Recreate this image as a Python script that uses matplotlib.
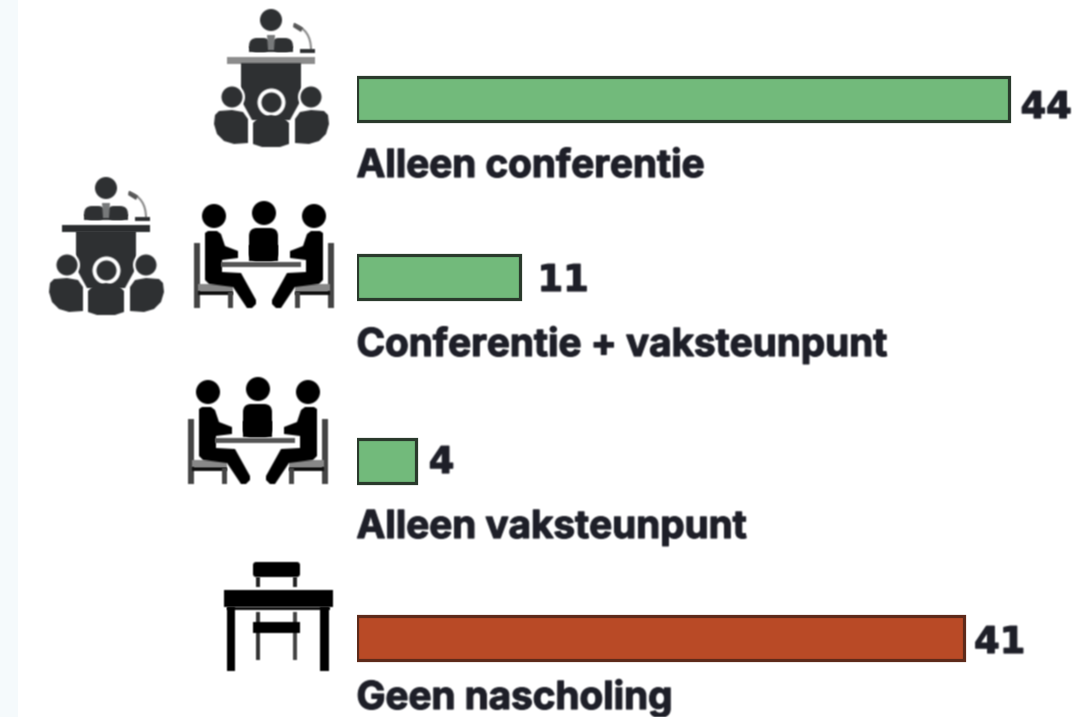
import matplotlib
matplotlib.use("Agg")
import numpy as np
import matplotlib.pyplot as plt
import matplotlib.patheffects as pe
from matplotlib.patches import Circle, Polygon, Rectangle, FancyBboxPatch, PathPatch
from matplotlib.path import Path

# ---- data ----
categories = ["Alleen conferentie", "Conferentie + vaksteunpunt",
              "Alleen vaksteunpunt", "Geen nascholing"]
values = [44, 11, 4, 41]
value_labels = ["44", "11", "4", "41"]
bar_colors = ["#72ba7b", "#72ba7b", "#72ba7b", "#b94a26"]
bar_edges = ["#2a3a2c", "#2a3a2c", "#2a3a2c", "#5e2a1a"]

# ---- layout (pixels) ----
W, H = 1092, 717
bar_centres = [98.5, 277, 461, 638]
bar_height = 44
label_baselines = [177, 356, 538, 709]
value_baselines = [118, 291, 473, 653]
value_gaps = [12, 18, 13, 10]
x0 = 356.5
px_per_unit = 14.82
INK = "#1e1f28"
DARK = "#2e3032"
GREY = "#8c8c8c"
BLACK = "#000000"


def soften(im, dpi):
    """Light blur, matching the soft raster look of the reference."""
    pad = 3
    im = np.pad(im, [(pad, pad), (pad, pad), (0, 0)])
    a = im[..., 3:]
    p = np.concatenate([im[..., :3] * a, a], axis=2)
    for axis in (0, 1):
        p = (np.roll(p, 1, axis) + 2 * p + np.roll(p, -1, axis)) / 4
    a = p[..., 3:]
    rgb = np.where(a > 1e-4, p[..., :3] / np.maximum(a, 1e-4), 0)
    return np.concatenate([np.clip(rgb, 0, 1), a], axis=2), -pad, -pad


fig = plt.figure(figsize=(W / 100, H / 100), dpi=100, facecolor="white")
bg = fig.add_axes([0, 0, 1, 1])
bg.set_xlim(0, W); bg.set_ylim(H, 0); bg.axis("off")
bg.add_patch(Rectangle((0, 0), 18, H, fc="#f5fafc", ec="none"))

# ---- bars ----
ax = fig.add_axes([x0 / W, 0, (W - x0) / W, 1])
ax.set_xlim(0, (W - x0) / px_per_unit)
ax.set_ylim(H, 0)
ax.axis("off"); ax.patch.set_alpha(0)
ax.barh(bar_centres, values, height=bar_height, color=bar_colors,
        edgecolor=bar_edges, linewidth=2.3)

fx = [pe.withStroke(linewidth=0.9, foreground=INK)]
for cat, val, lab, vb, base, gap in zip(categories, values, value_labels,
                                        value_baselines, label_baselines, value_gaps):
    t = ax.text(0, base, cat, family=["Inter", "DejaVu Sans"], weight="bold", fontsize=27.8,
                color=INK, ha="left", va="baseline", path_effects=fx)
    t.set_agg_filter(soften)
    t = ax.text(val + gap / px_per_unit, vb, lab, family="DejaVu Sans", weight="bold",
                fontsize=26.5, color=INK, ha="left", va="baseline", path_effects=fx)
    t.set_agg_filter(soften)


# ---- icons (decoration, pixel coordinates) ----
def add(p):
    p.set_agg_filter(soften)
    bg.add_patch(p)


def speaker(dx, dy, top):
    def c(x, y): return (x + dx, y + dy)
    add(Circle(c(271, 20), 11, fc=DARK, ec="none"))
    add(FancyBboxPatch(c(249, 38), 22, 14, boxstyle="round,pad=0,rounding_size=8", fc=DARK, ec="none"))
    add(FancyBboxPatch(c(271, 38), 22, 14, boxstyle="round,pad=0,rounding_size=8", fc=DARK, ec="none"))
    add(Rectangle(c(249, 46), 44, 6, fc=DARK, ec="none"))
    add(Polygon([c(267, 35), c(275, 35), c(274, 50), c(268, 50)], fc="#77797a", ec="none"))
    add(PathPatch(Path([c(294, 24), c(305, 28), c(311, 36), c(311, 50)],
                       [Path.MOVETO, Path.CURVE4, Path.CURVE4, Path.CURVE4]),
                  fc="none", ec="#8a8a8a", lw=1.5))
    add(Polygon([c(294, 23), c(303, 28), c(301, 32), c(293, 27)], fc="#555", ec="none"))
    add(Rectangle(c(300, 49), 15, 4, fc=DARK, ec="none"))
    add(Rectangle(c(227, 57), 88, 6.5, fc=top, ec="none"))
    add(Polygon([c(241, 63), c(301, 63), c(301, 100), c(290, 120), c(252, 120), c(241, 100)], fc=DARK, ec="none"))
    add(Circle(c(271.5, 102.5), 14, fc="white", ec="none"))
    add(Circle(c(271.5, 102.5), 10, fc=DARK, ec="none"))
    for hx in (232, 311):
        add(Circle(c(hx, 97), 13, fc="white", ec="none"))
        add(Circle(c(hx, 97), 10.5, fc=DARK, ec="none"))

    def body(pts):
        add(Polygon([c(*p) for p in pts], fc=DARK, ec="none", joinstyle="round"))
    body([(219, 111), (232, 110), (243, 112), (248, 119), (248, 143), (234, 144),
          (224, 141), (217, 134), (214, 124), (215, 115)])
    body([(324, 111), (311, 110), (300, 112), (295, 119), (295, 143), (309, 144),
          (319, 141), (326, 134), (329, 124), (328, 115)])
    body([(253, 123), (258, 118), (271, 115), (284, 118), (289, 123), (289, 144),
          (280, 147), (262, 147), (253, 144)])


def meeting(dx, dy):
    def c(x, y): return (x + dx, y + dy)
    for m in (False, True):
        def s(x, y):
            return c(528 - x, y) if m else c(x, y)
        # chair
        add(Polygon([s(194, 243), s(200, 243), s(200, 308), s(194, 308)], fc="#444", ec="none"))
        add(Polygon([s(198, 284), s(233, 284), s(233, 291), s(198, 291)], fc="#888", ec="none"))
        add(Polygon([s(198, 291), s(233, 291), s(233, 295), s(198, 295)], fc="#111", ec="none"))
        add(Polygon([s(228, 292), s(233, 292), s(233, 308), s(228, 308)], fc="#444", ec="none"))
        # person
        add(Circle(s(214, 216), 12, fc=BLACK, ec="none"))
        add(Polygon([s(205, 233), s(208, 231), s(217, 231), s(221, 234), s(225, 246), s(238, 251), s(238, 258), s(222, 260),
                     s(222, 272), s(241, 273), s(256, 300), s(256, 304), s(252, 308), s(247, 308),
                     s(233, 287), s(209, 284), s(205, 280)], fc=BLACK, ec="none"))
    add(Circle(c(264, 213), 12, fc=BLACK, ec="none"))
    add(FancyBboxPatch(c(249, 228), 29, 33, boxstyle="round,pad=0,rounding_size=8", fc=BLACK, ec="none"))
    add(Rectangle(c(249, 245), 29, 16, fc=BLACK, ec="none"))
    add(Rectangle(c(221, 262), 80, 5, fc="#555", ec="none"))


def desk():
    add(FancyBboxPatch((253, 562), 47, 15, boxstyle="round,pad=0,rounding_size=3", fc=BLACK, ec="none"))
    add(Rectangle((256, 577), 4, 10, fc="#222", ec="none"))
    add(Rectangle((293, 577), 4, 10, fc="#222", ec="none"))
    add(Rectangle((224, 590), 109, 17, fc=BLACK, ec="none"))
    add(Rectangle((227, 607), 103, 2.5, fc="#111", ec="none"))
    add(Rectangle((227, 607), 8, 64, fc=BLACK, ec="none"))
    add(Rectangle((320, 607), 9, 64, fc=BLACK, ec="none"))
    add(Rectangle((256, 612), 4, 48, fc="#333", ec="none"))
    add(Rectangle((293, 612), 4, 48, fc="#444", ec="none"))
    add(Rectangle((253, 622), 47, 11, fc=BLACK, ec="none"))


speaker(0, 0, GREY)
speaker(-165, 168, "#2b2d2f")
meeting(0, 0)
meeting(-6, 176)
desk()

fig.savefig("out.png", dpi=100, facecolor="white")
